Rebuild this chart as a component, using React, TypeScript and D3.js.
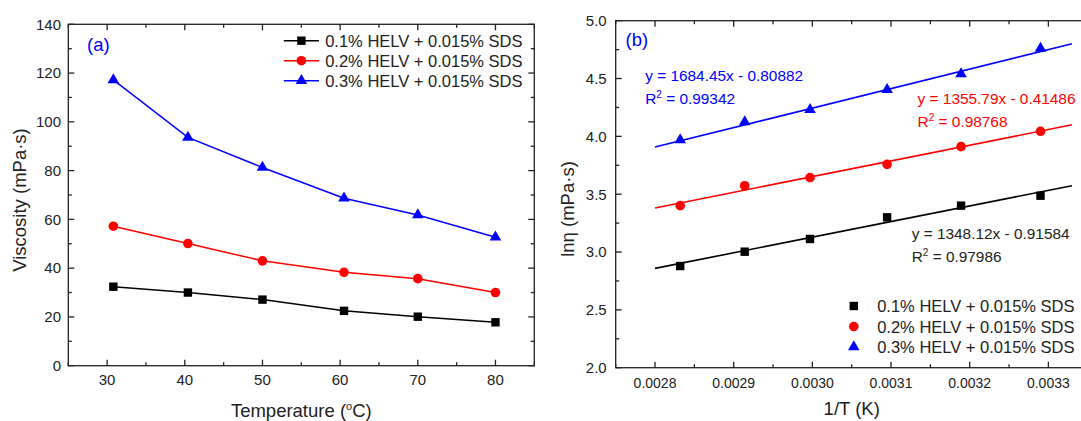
import * as d3 from 'd3';

// panel (a): viscosity vs temperature
const tempC = [30.8, 40.4, 50, 60.5, 70, 80];
const visc01 = [32.4, 30.0, 27.1, 22.5, 20.1, 17.8];
const visc02 = [57.2, 50.1, 43.0, 38.3, 35.7, 30.0];
const visc03 = [117.2, 93.6, 81.3, 68.7, 61.8, 52.7];

// panel (b): ln(eta) vs 1/T
const invT = [0.002832, 0.002914, 0.002997, 0.003095, 0.003189, 0.00329];
const lnEta01 = [2.879, 3.003, 3.113, 3.3, 3.401, 3.487];
const lnEta02 = [3.401, 3.573, 3.643, 3.758, 3.911, 4.044];
const lnEta03 = [3.969, 4.124, 4.23, 4.403, 4.539, 4.761];

const seriesNames = ['0.1% HELV + 0.015% SDS', '0.2% HELV + 0.015% SDS', '0.3% HELV + 0.015% SDS'];
const colors = ['#000000', '#ff0000', '#0000ff'];

const fitSlopes = [1348.12, 1355.79, 1684.45];
const fitIntercepts = [-0.91584, -0.41486, -0.80882];
const fitR2 = ['0.97986', '0.98768', '0.99342'];
const fitRange = [0.0028, 0.00333];

const aXTicks = [30, 40, 50, 60, 70, 80];
const aYTicks = [0, 20, 40, 60, 80, 100, 120, 140];
const bXTicks = ['0.0028', '0.0029', '0.0030', '0.0031', '0.0032', '0.0033'];
const bYTicks = ['2.0', '2.5', '3.0', '3.5', '4.0', '4.5', '5.0'];

const FONT = 'Liberation Sans, Arial, Helvetica, sans-serif';
const AXIS = '#222';

const Marker = ({ kind, x, y, color }: { kind: number; x: number; y: number; color: string }) => {
  if (kind === 0) return <rect x={x - 4.2} y={y - 4.2} width={8.4} height={8.4} fill={color} />;
  if (kind === 1) return <circle cx={x} cy={y} r={4.8} fill={color} />;
  const d = d3.symbol(d3.symbolTriangle, 58)() as string;
  return <path d={d} transform={`translate(${x},${y})`} fill={color} />;
};

// box with inward ticks on all four sides
const Frame = ({ x, y, xMajor, yMajor, xMinor, yMinor }: any) => {
  const [x0, x1] = x.range();
  const [y1, y0] = y.range();
  const lines: any[] = [];
  const tk = (v: number, len: number, horiz: boolean, key: string) => {
    if (horiz) {
      const px = x(v);
      lines.push(<line key={key + 'b'} x1={px} x2={px} y1={y1} y2={y1 - len} />);
      lines.push(<line key={key + 't'} x1={px} x2={px} y1={y0} y2={y0 + len} />);
    } else {
      const py = y(v);
      lines.push(<line key={key + 'l'} x1={x0} x2={x0 + len} y1={py} y2={py} />);
      lines.push(<line key={key + 'r'} x1={x1} x2={x1 - len} y1={py} y2={py} />);
    }
  };
  xMajor.forEach((v: number, i: number) => tk(v, 6, true, 'xM' + i));
  xMinor.forEach((v: number, i: number) => tk(v, 3.5, true, 'xm' + i));
  yMajor.forEach((v: number, i: number) => tk(v, 6, false, 'yM' + i));
  yMinor.forEach((v: number, i: number) => tk(v, 3.5, false, 'ym' + i));
  return (
    <g stroke={AXIS} strokeWidth={1.3} fill="none">
      <rect x={x0} y={y0} width={x1 - x0} height={y1 - y0} />
      {lines}
    </g>
  );
};

const mids = (arr: number[], lo: number, hi: number) => {
  const step = arr[1] - arr[0];
  const out: number[] = [];
  for (let v = arr[0] - step / 2; v <= hi + 1e-12; v += step) if (v >= lo - 1e-12) out.push(v);
  return out;
};

const PanelA = () => {
  const x = d3.scaleLinear().domain([25, 85]).range([68.3, 534.3]);
  const y = d3.scaleLinear().domain([0, 140]).range([365.7, 24.3]);
  const series = [visc01, visc02, visc03];
  const line = d3.line<number>().x((_, i) => x(tempC[i])).y((d) => y(d));
  return (
    <g fontFamily={FONT}>
      {series.map((s, k) => (
        <path key={k} d={line(s) as string} fill="none" stroke={colors[k]} strokeWidth={1.5} />
      ))}
      {series.map((s, k) =>
        s.map((v, i) => <Marker key={k + '-' + i} kind={k} x={x(tempC[i])} y={y(v)} color={colors[k]} />)
      )}
      <Frame x={x} y={y} xMajor={aXTicks} yMajor={aYTicks} xMinor={mids(aXTicks, 25, 85)} yMinor={mids(aYTicks, 0, 140).filter((v) => v > 0)} />
      {aXTicks.map((t) => (
        <text key={t} x={x(t)} y={385} textAnchor="middle" fontSize={15} fill={AXIS}>{t}</text>
      ))}
      {aYTicks.map((t) => (
        <text key={t} x={61} y={y(t) + 5.3} textAnchor="end" fontSize={15} fill={AXIS}>{t}</text>
      ))}
      <text x={301.3} y={417} textAnchor="middle" fontSize={18.5} fill={AXIS}>
        Temperature (<tspan fontSize={11} dy={-7}>o</tspan><tspan dy={7}>C)</tspan>
      </text>
      <text transform="translate(26,200) rotate(-90)" textAnchor="middle" fontSize={18.5} fill={AXIS}>
        Viscosity (mPa·s)
      </text>
      <text x={87} y={51} fontSize={18.5} fill="#0000ff">(a)</text>
      {seriesNames.map((n, k) => {
        const ly = 40.7 + k * 20;
        return (
          <g key={n}>
            <line x1={283.8} x2={319} y1={ly} y2={ly} stroke={colors[k]} strokeWidth={1.5} />
            <Marker kind={k} x={301.4} y={ly} color={colors[k]} />
            <text x={325.2} y={ly + 6} fontSize={16.5} fill={AXIS}>{n}</text>
          </g>
        );
      })}
    </g>
  );
};

const PanelB = () => {
  const x = d3.scaleLinear().domain([0.00275, 0.00335]).range([615.7, 1087.7]);
  const y = d3.scaleLinear().domain([2, 5]).range([367.7, 20.7]);
  const series = [lnEta01, lnEta02, lnEta03];
  const xMajor = bXTicks.map(Number);
  const yMajor = bYTicks.map(Number);
  const eqPos = [
    { x: 911.7, y: 239.3 },
    { x: 917.6, y: 104 },
    { x: 645.2, y: 81 },
  ];
  return (
    <g fontFamily={FONT}>
      {fitSlopes.map((m, k) => (
        <line
          key={k}
          x1={x(fitRange[0])}
          x2={x(fitRange[1])}
          y1={y(m * fitRange[0] + fitIntercepts[k])}
          y2={y(m * fitRange[1] + fitIntercepts[k])}
          stroke={colors[k]}
          strokeWidth={1.6}
        />
      ))}
      {series.map((s, k) =>
        s.map((v, i) => <Marker key={k + '-' + i} kind={k} x={x(invT[i])} y={y(v)} color={colors[k]} />)
      )}
      <Frame x={x} y={y} xMajor={xMajor} yMajor={yMajor} xMinor={mids(xMajor, 0.00275, 0.00335)} yMinor={mids(yMajor, 2, 5).filter((v) => v > 2)} />
      {bXTicks.map((t) => (
        <text key={t} x={x(+t)} y={388} textAnchor="middle" fontSize={14} fill={AXIS}>{t}</text>
      ))}
      {bYTicks.map((t) => (
        <text key={t} x={606.7} y={y(+t) + 5.3} textAnchor="end" fontSize={15} fill={AXIS}>{t}</text>
      ))}
      <text x={851.7} y={415} textAnchor="middle" fontSize={18.5} fill={AXIS}>1/T (K)</text>
      <text transform="translate(574,209) rotate(-90)" textAnchor="middle" fontSize={18.5} fill={AXIS}>
        lnη (mPa·s)
      </text>
      <text x={625.5} y={46} fontSize={18.5} fill="#0000ff">(b)</text>
      {fitSlopes.map((m, k) => (
        <g key={k} fontSize={15.4} fill={k === 0 ? AXIS : colors[k]}>
          <text x={eqPos[k].x} y={eqPos[k].y}>
            {`y = ${m.toFixed(2)}x - ${Math.abs(fitIntercepts[k]).toFixed(5)}`}
          </text>
          <text x={eqPos[k].x} y={eqPos[k].y + 22.5}>
            R<tspan fontSize={10} dy={-6}>2</tspan><tspan dy={6}>{` = ${fitR2[k]}`}</tspan>
          </text>
        </g>
      ))}
      {seriesNames.map((n, k) => {
        const ly = 306 + k * 20.5;
        return (
          <g key={n}>
            <Marker kind={k} x={853.8} y={ly} color={colors[k]} />
            <text x={877.2} y={ly + 6} fontSize={16.5} fill={AXIS}>{n}</text>
          </g>
        );
      })}
    </g>
  );
};

export default function App() {
  return (
    <svg width={1081} height={421} style={{ position: 'absolute', left: 0, top: 0, background: '#fff' }}>
      <PanelA />
      <PanelB />
    </svg>
  );
}
